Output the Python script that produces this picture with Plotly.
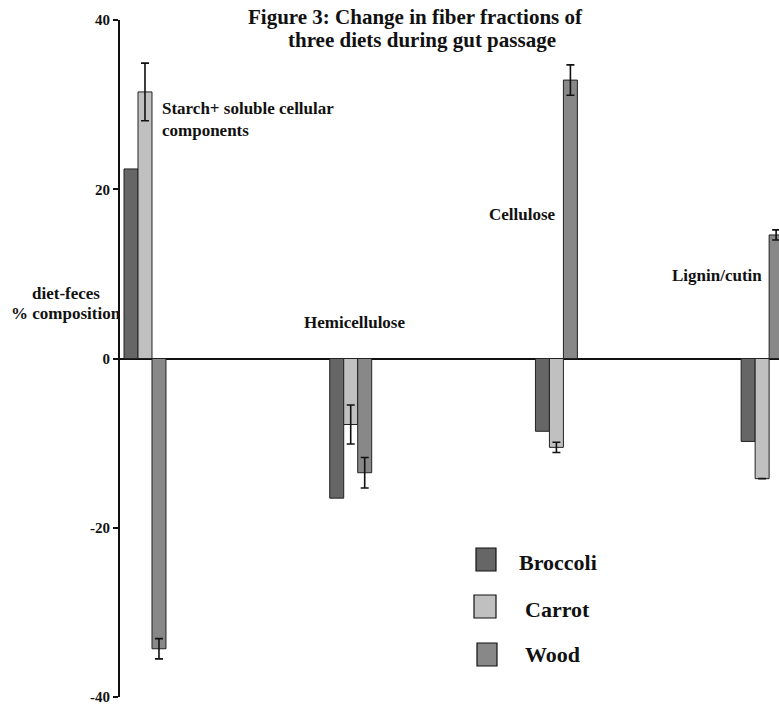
import plotly.graph_objects as go

# Fiber fractions (categories along the x axis)
categories = ["Starch+ soluble cellular components", "Hemicellulose", "Cellulose", "Lignin/cutin"]

# diet - feces % composition for each diet
diets = ["Broccoli", "Carrot", "Wood"]
broccoli = [22.4, -16.5, -8.6, -9.8]
carrot = [31.5, -7.8, -10.5, -14.2]
wood = [-34.3, -13.5, 32.9, 14.6]

# error bar half-lengths (None = no bar drawn)
broccoli_err = [None, None, None, None]
carrot_err = [3.4, 2.3, 0.6, None]
wood_err = [1.2, 1.8, 1.8, 0.6]

y_ticks = [-40, -20, 0, 20, 40]

colors = ["#666666", "#c0c0c0", "#888888"]
FONT = "Liberation Serif"

W, H = 779, 706
ML, MR, MT, MB = 120, 0, 20, 9
PW, PH = W - ML - MR, H - MT - MB


def px_x(px):
    return (px - ML) / PW


def px_y(py):
    return (H - MB - py) / PH


fig = go.Figure()
series = [broccoli, carrot, wood]
errors = [broccoli_err, carrot_err, wood_err]
for name, vals, errs, col in zip(diets, series, errors, colors):
    err_cfg = None
    if any(e is not None for e in errs):
        err_cfg = dict(type="data", array=[e if e is not None else float("nan") for e in errs],
                       visible=True, color="#111111", thickness=1.6, width=4)
    fig.add_trace(go.Bar(
        x=list(range(len(categories))), y=vals, name=name,
        marker=dict(color=col, line=dict(color="#222222", width=1)),
        error_y=err_cfg, showlegend=False,
    ))

fig.update_layout(
    width=W, height=H,
    margin=dict(l=ML, r=MR, t=MT, b=MB),
    paper_bgcolor="white", plot_bgcolor="white",
    barmode="group", bargap=0.796, bargroupgap=0,
    font=dict(family=FONT, color="#111111"),
    xaxis=dict(range=[-0.1215, 3.082], showticklabels=False, showgrid=False,
               zeroline=False, showline=False, ticks=""),
    yaxis=dict(range=[-40, 40], tickvals=y_ticks, ticktext=[f"<b>{v}</b>" for v in y_ticks],
               showgrid=False, zeroline=True, zerolinecolor="#111111", zerolinewidth=2,
               showline=True, linecolor="#111111", linewidth=2,
               ticks="outside", ticklen=5, tickwidth=1.5, tickcolor="#111111",
               tickfont=dict(family=FONT, size=15, color="#111111")),
)

ann = []
# title (two lines)
ann.append(dict(text="<b>Figure 3: Change in fiber fractions of</b>", x=px_x(415), y=px_y(17)))
ann.append(dict(text="<b>three diets during gut passage</b>", x=px_x(422), y=px_y(40)))
# y-axis title
ann.append(dict(text="<b>diet-feces</b>", x=px_x(66), y=px_y(293), size=17))
ann.append(dict(text="<b>% composition</b>", x=px_x(66), y=px_y(313), size=17))

for a in ann:
    fig.add_annotation(text=a["text"], x=a["x"], y=a["y"], xref="paper", yref="paper",
                       xanchor="center", yanchor="middle", showarrow=False,
                       font=dict(family=FONT, size=a.get("size", 21), color="#111111"))

# category labels placed in data coordinates near their bars
cat_labels = [
    ("<b>Starch+ soluble cellular<br>components</b>", 0.073, 28.2, "left"),
    ("<b>Hemicellulose</b>", 1.016, 4.3, "center"),
    ("<b>Cellulose</b>", 1.835, 17.0, "center"),
    ("<b>Lignin/cutin</b>", 2.781, 9.8, "center"),
]
for text, xv, yv, anchor in cat_labels:
    fig.add_annotation(text=text, x=xv, y=yv, xref="x", yref="y", xanchor=anchor,
                       yanchor="middle", align="left", showarrow=False,
                       font=dict(family=FONT, size=17, color="#111111"))

# custom legend: swatch boxes with labels
legend_box_x = [(476, 496), (474, 496), (477, 497)]
legend_box_y = [(548, 571), (595, 618), (643, 666)]
legend_text_x = [517, 523, 523]
legend_text_y = [562, 609, 654]
for name, col, bx, by, tx, ty in zip(diets, colors, legend_box_x, legend_box_y,
                                     legend_text_x, legend_text_y):
    fig.add_shape(type="rect", xref="paper", yref="paper",
                  x0=px_x(bx[0]), x1=px_x(bx[1]), y0=px_y(by[1]), y1=px_y(by[0]),
                  fillcolor=col, line=dict(color="#111111", width=1.2))
    fig.add_annotation(text=f"<b>{name}</b>", x=px_x(tx), y=px_y(ty), xref="paper", yref="paper",
                       xanchor="left", yanchor="middle", showarrow=False,
                       font=dict(family=FONT, size=22, color="#111111"))

fig.write_html("out.html")
